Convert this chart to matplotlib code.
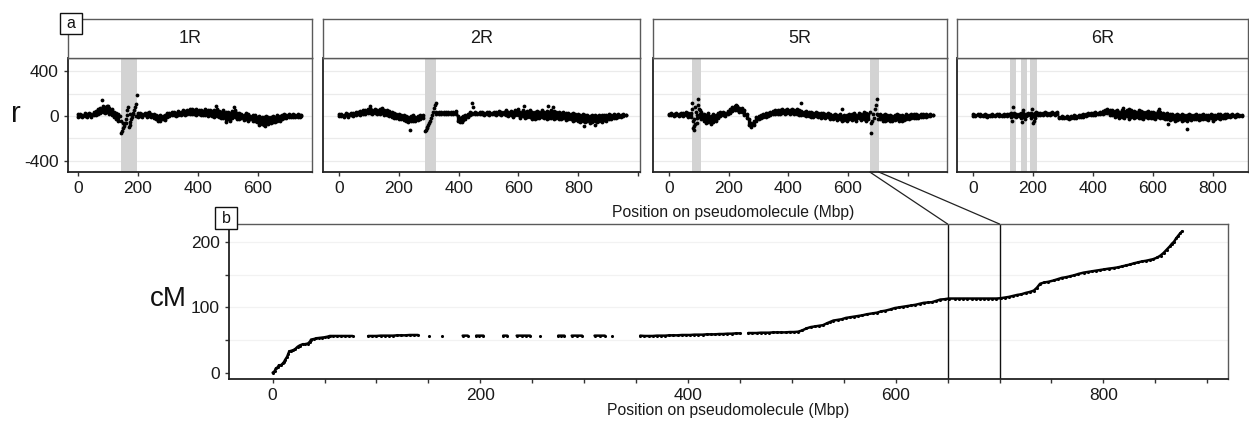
import matplotlib

matplotlib.use("Agg")
import matplotlib.pyplot as plt
import numpy as np
from matplotlib.patches import ConnectionPatch, Rectangle

W, H = 1249, 423

# ---- panel a: r along each pseudomolecule (upper / lower edge of the band + odd points)
R1_POS = [0, 7, 15, 22, 30, 38, 45, 53, 60, 68, 75, 83, 90, 98, 105, 113, 120, 128, 135,
          200, 208, 215, 223, 230, 238, 245, 253, 260, 268, 275, 283, 290, 298, 305, 313, 320,
          328, 335, 343, 350, 358, 365, 373, 380, 388, 395, 403, 410, 418, 425, 433, 440, 448,
          455, 463, 470, 478, 485, 493, 500, 508, 515, 523, 530, 538, 545, 553, 560, 568, 575,
          583, 590, 598, 605, 613, 620, 628, 635, 643, 650, 658, 665, 673, 680, 688, 695, 703,
          710, 718, 725, 733, 740, 745]
R1_HI = [15, 20, 10, 25, 15, 30, 20, 35, 45, 60, 70, 90, 80, 90, 70, 60, 40, 30, 20,
         25, 30, 20, 30, 25, 35, 20, 15, 10, 0, 5, 0, 10, 25, 30, 35, 40,
         30, 45, 40, 50, 45, 55, 60, 65, 55, 60, 50, 55, 45, 60, 50, 55, 45,
         50, 60, 45, 40, 50, 35, 40, 30, 45, 55, 30, 25, 20, 10, 25, 15, 0,
         10, 5, -5, 0, -10, -5, 0, -10, -5, 0, -10, 5, 0, 10, 15, 10, 15,
         10, 15, 10, 15, 10, 5]
R1_LO = [-5, 0, -10, 0, -5, 5, -10, 5, 10, 20, 30, 40, 30, 35, 20, 10, -10, -30, -45,
         -5, 0, -10, 5, -5, 0, -10, -15, -25, -40, -45, -30, -35, -10, 0, 5, 10,
         0, 10, 5, 15, 10, 15, 20, 20, 15, 10, 15, 5, 10, 5, 0, 10, 0,
         -5, 0, -10, -20, -15, -50, -30, -45, -20, -10, -25, -30, -20, -35, -25, -40, -30,
         -40, -45, -55, -60, -70, -80, -60, -75, -60, -50, -55, -40, -45, -30, -20, -15, -10,
         -10, -5, -10, -5, -5, 0]
R1_X = [81, 100, 143, 145, 147, 150, 153, 156, 159, 162, 165, 168, 170, 172, 175, 178, 181,
        184, 187, 190, 193, 196, 140, 150, 160, 175, 185, 192, 460, 520, 605, 625]
R1_R = [140, 90, -40, -150, -130, -110, -85, -60, -30, 10, 50, 80, -100, -80, -55, -30, -5,
        20, 50, 80, 110, 185, 0, -60, -60, 20, 30, 0, 90, 80, -80, -90]

R2_POS = [0, 8, 16, 24, 32, 40, 48, 56, 64, 72, 80, 88, 96, 104, 112, 120, 128, 136, 144, 152,
          160, 168, 176, 184, 192, 200, 208, 216, 224, 232, 240, 248, 256, 264, 272, 280,
          326, 334, 342, 350, 358, 366, 374, 382, 390, 398, 404, 410, 416, 422, 430, 438, 446,
          454, 462, 470, 478, 486, 494, 502, 510, 518, 526, 534, 542, 550, 558, 566, 574, 582,
          590, 598, 606, 614, 622, 630, 638, 646, 654, 662, 670, 678, 686, 694, 702, 710, 718,
          726, 734, 742, 750, 758, 766, 774, 782, 790, 798, 806, 814, 822, 830, 838, 846, 854,
          862, 870, 878, 886, 894, 902, 910, 918, 926, 934, 942, 950, 958]
R2_HI = [15, 20, 10, 25, 15, 30, 25, 35, 40, 45, 55, 50, 60, 70, 55, 65, 50, 60, 75, 50,
         55, 45, 35, 30, 20, 15, 10, 5, 0, -5, 0, 5, -5, 0, 5, 10,
         40, 35, 40, 35, 40, 35, 40, 35, 45, 0, -20, -10, 0, 10, 20, 40, 30,
         35, 30, 40, 35, 30, 40, 35, 30, 40, 35, 45, 35, 40, 50, 35, 45, 40,
         55, 60, 35, 50, 40, 45, 55, 40, 35, 45, 40, 50, 35, 45, 40, 55, 45,
         40, 35, 30, 35, 25, 30, 20, 25, 15, 20, 10, 15, 5, 10, 0, 5, 10,
         0, 5, 10, 5, 10, 15, 10, 15, 10, 15, 10, 15, 10]
R2_LO = [0, 0, -5, 5, -5, 5, 0, 10, 15, 10, 20, 15, 25, 30, 20, 25, 15, 20, 25, 10,
         5, 0, -5, -15, -20, -25, -30, -35, -40, -50, -45, -40, -45, -35, -30, -20,
         15, 20, 20, 15, 20, 20, 15, 20, 15, -40, -55, -50, -35, -25, -10, 10, 15,
         20, 15, 20, 15, 10, 15, 10, 15, 20, 10, 15, 10, 15, 10, 0, 5, -10,
         10, 5, -15, 0, -20, -10, -5, -25, -30, -20, -15, -10, -20, -25, -15, -20, -30,
         -15, -25, -30, -20, -35, -25, -30, -40, -35, -45, -50, -40, -55, -45, -60, -50, -45,
         -55, -40, -50, -35, -40, -30, -25, -20, -15, -10, -5, 0, 5]
R2_X = [287, 290, 293, 296, 299, 302, 305, 308, 311, 314, 317, 320, 323, 236, 445, 447, 103,
        620, 700, 716, 820, 855]
R2_R = [-130, -120, -105, -95, -80, -60, -40, -20, 10, 40, 70, 100, 120, -120, 118, 80, 90,
        90, 90, 80, -90, -80]

R5_POS = [0, 8, 16, 24, 32, 40, 48, 56, 64, 72,
          108, 116, 124, 132, 140, 148, 156, 164, 172, 180, 188, 196, 204, 212, 220, 228, 236,
          244, 252, 260, 268, 276, 284, 292, 300, 308, 316, 324, 332, 340, 348, 356, 364, 372,
          380, 388, 396, 404, 412, 420, 428, 436, 444, 452, 460, 468, 476, 484, 492, 500, 508,
          516, 524, 532, 540, 548, 556, 564, 572, 580, 588, 596, 604, 612, 620, 628, 636, 644,
          652, 660, 668,
          708, 716, 724, 732, 740, 748, 756, 764, 772, 780, 788, 796, 804, 812, 820, 828, 836,
          844, 852, 860, 868, 876, 884]
R5_HI = [20, 25, 15, 30, 20, 30, 25, 35, 30, 25,
         40, 20, 10, 30, 0, 20, 10, 25, 35, 40, 30, 45, 60, 80, 90, 85, 75,
         70, 50, 20, -30, -60, -40, -10, 0, 10, 20, 25, 30, 40, 45, 50, 55, 50,
         60, 55, 60, 50, 65, 55, 60, 50, 45, 40, 45, 35, 40, 30, 35, 30, 25,
         30, 20, 25, 15, 10, 20, 5, 15, 0, 10, 5, 20, 15, 25, 10, 30, 20,
         35, 25, 20,
         20, 10, 15, 5, 10, 0, 10, 15, 5, 10, 0, 15, 10, 20, 15, 20, 10,
         15, 20, 15, 10, 15, 10]
R5_LO = [5, 5, 0, 10, 0, 5, 0, 5, -5, -10,
         -30, -40, -60, -50, -70, -50, -40, -20, 0, 10, 0, 15, 25, 45, 55, 50, 40,
         35, 10, -20, -80, -100, -80, -40, -30, -20, -10, -5, 0, 10, 15, 15, 20, 20,
         25, 20, 25, 15, 25, 20, 20, 10, 5, 5, 0, 0, -5, -5, 0, -10, -15,
         -5, -20, -10, -25, -30, -20, -35, -30, -40, -35, -45, -30, -35, -25, -40, -20, -35,
         -25, -40, -30,
         -30, -40, -45, -35, -40, -45, -35, -30, -40, -45, -35, -30, -25, -20, -15, -20, -15,
         -10, -5, -5, 0, 0, 5]
R5_X = [76, 78, 80, 82, 84, 86, 88, 90, 92, 94, 96, 98, 100, 102, 104, 79, 85, 95, 103,
        674, 676, 678, 680, 683, 686, 690, 693, 696, 698, 700, 702, 444, 225, 580]
R5_R = [118, 60, -40, -90, -124, -70, 80, 40, -20, -60, 150, 100, 60, 20, -10, -110, -30, 10, 50,
        40, -60, -154, -40, 20, -20, 60, 98, 148, 20, -30, 10, 118, 100, 60]

R6_POS = [0, 8, 16, 24, 32, 40, 48, 56, 64, 72, 80, 88, 96, 104, 112, 120, 128, 136, 144, 152,
          160, 168, 176, 184, 192, 200, 208, 216, 224, 232, 240, 248, 256, 264, 272, 280, 288,
          296, 304, 312, 320, 328, 336, 344, 352, 360, 368, 376, 384, 392, 400, 408, 416, 424,
          432, 440, 448, 456, 464, 472, 480, 488, 496, 504, 512, 520, 528, 536, 544, 552, 560,
          568, 576, 584, 592, 600, 608, 616, 624, 632, 640, 648, 656, 664, 672, 680, 688, 696,
          704, 712, 720, 728, 736, 744, 752, 760, 768, 776, 784, 792, 800, 808, 816, 824, 832,
          840, 848, 856, 864, 872, 880, 888, 896]
R6_HI = [15, 12, 18, 15, 10, 14, 8, 10, 15, 12, 18, 15, 12, 16, 14, 18, 30, 25, 20, 15,
         30, 25, 20, 25, 30, 20, 25, 30, 25, 30, 35, 25, 30, 35, 30, 35, -5,
         0, -5, 0, -5, 0, 5, 0, 5, 10, 15, 20, 25, 30, 25, 35, 30, 40,
         45, 55, 60, 50, 55, 45, 50, 40, 55, 45, 50, 40, 55, 45, 40, 50, 45,
         35, 40, 45, 35, 40, 30, 45, 35, 30, 20, 25, 15, 20, 10, 15, 10, 15,
         5, 10, 15, 5, 10, 15, 5, 10, 15, 5, 10, 15, 5, 10, 20, 15, 10,
         20, 15, 10, 15, 10, 15, 12, 10]
R6_LO = [0, 2, 5, 0, -2, 2, -5, -3, 2, 0, 5, 2, 0, 4, 2, 5, -10, 0, -10, 0,
         -20, -5, 0, 5, -15, 0, -20, 10, 5, 10, 15, 5, 10, 15, 10, 15, -20,
         -15, -20, -15, -25, -18, -15, -20, -12, -10, -5, 0, 5, 10, 5, 10, 15, 15,
         20, 30, 25, 10, 5, -10, 0, -15, -5, -20, 0, -25, -10, -20, -10, -15, -20,
         -25, -10, -15, -20, -15, -25, -10, -20, -15, -30, -25, -35, -30, -40, -35, -30, -40,
         -35, -45, -30, -35, -30, -25, -35, -30, -25, -30, -35, -20, -40, -25, -20, -30, -20,
         -15, -10, -5, 0, -5, 0, 2, 0]
R6_X = [134, 131, 163, 167, 172, 196, 200, 205, 210, 500, 520, 713, 620, 650]
R6_R = [80, -40, -50, 50, -30, 60, -65, -45, 40, 70, 65, -118, 60, -70]

CHROMS = ["1R", "2R", "5R", "6R"]
SHADES = {
    "1R": [(143, 197)],
    "2R": [(287, 323)],
    "5R": [(76, 106), (673, 703)],
    "6R": [(123, 143), (160, 180), (190, 213)],
}
X_TICKS = [0, 200, 400, 600, 800, 1000]

# ---- panel b: genetic map of 5R (cM vs physical position)
CM_POS = [0, 2, 3, 5, 6, 8, 10, 11, 12, 14, 15, 16, 18, 20, 22, 24, 26, 29, 31, 34, 36, 37, 40,
          42, 45, 48, 50, 53, 55, 58, 62, 66, 70, 74, 77,
          92, 96, 100, 104, 108, 112, 116, 120, 124, 128, 132, 136, 140,
          151, 163, 183, 188, 196, 199, 203, 222, 226, 235, 240, 244, 248, 257, 275, 278, 281,
          288, 293, 298, 310, 315, 320, 327, 354,
          358, 362, 366, 370, 374, 378, 382, 386, 390, 394, 398, 402, 406, 410, 414, 418, 422,
          426, 430, 434, 438, 442, 446, 450, 458, 462, 466, 470, 474, 478, 482, 486, 490, 494,
          498, 502, 506, 510, 514, 518, 522, 526, 530, 534, 537, 540, 544, 548, 552, 556, 560,
          564, 568, 572, 578, 582, 586, 590, 595, 599, 603, 607, 611, 615, 619, 623, 627, 631,
          635, 639, 643, 647, 651,
          657, 661, 665, 669, 673, 677, 681, 685, 689, 693, 697, 701,
          705, 709, 713, 717, 721, 725, 729, 733, 736, 739, 743, 747, 752, 756, 760, 764, 768,
          772, 776, 781, 785, 789, 793, 797, 801, 805, 810, 814, 818, 822, 826, 829, 833, 837,
          841, 845, 848, 852, 855, 858, 861, 864, 866, 868, 870, 872, 874, 876]
CM_VAL = [0.5, 3, 7, 9, 12, 12, 15, 17, 20, 25, 29, 33, 34, 35, 37, 40, 42, 44, 44, 45, 48, 51,
          52, 53, 53.5, 54, 54.5, 55.5, 56.5, 56.5, 56.5, 56.5, 56.5, 56.5, 56.5,
          56.5, 56.5, 56.5, 57, 57, 57, 57, 57.5, 57.5, 57.5, 58, 58, 58,
          57, 57, 57, 57, 57, 57, 57, 57, 57, 57, 57, 57, 57, 57, 57, 57, 57,
          57, 57, 57, 57, 57, 57, 57, 57,
          56.5, 56.5, 56.5, 57, 57, 57, 57.5, 57.5, 57.5, 58, 58, 58, 58.5, 58.5, 58.5, 59, 59,
          59, 59.5, 59.5, 60, 60, 60.5, 60.5, 61, 61, 61, 61.5, 61.5, 61.5, 62, 62, 62, 62,
          62.5, 62.5, 63, 65, 68, 70, 71, 72, 73, 76, 78, 80, 81, 82, 84, 85, 86,
          87, 88, 89.5, 91, 92, 94, 95, 97, 99, 100, 101, 102, 103, 104, 105.5, 107, 107.5,
          108, 110, 112, 112.5, 113.5,
          113.5, 113.5, 113.5, 113.5, 113.5, 113.5, 113.5, 113.5, 113.5, 113.5, 113.5, 114,
          115, 116, 117.5, 119, 120, 122, 123.5, 125.6, 130, 136, 138, 139, 141, 143, 145, 146,
          147.5, 149, 151, 153, 154, 155, 156, 157, 158, 159, 160, 161, 162.5, 164, 165.5, 167,
          168.5, 170, 171, 172.5, 173.5, 176, 179, 183, 188, 193, 197, 200, 205, 209, 213, 216]
ZOOM_RANGE = (650, 700)

DATA = {
    "1R": (R1_POS, R1_HI, R1_LO, R1_X, R1_R),
    "2R": (R2_POS, R2_HI, R2_LO, R2_X, R2_R),
    "5R": (R5_POS, R5_HI, R5_LO, R5_X, R5_R),
    "6R": (R6_POS, R6_HI, R6_LO, R6_X, R6_R),
}

# panel frames in pixels (left, right) and x limits
TOP_X = {"1R": (68, 312), "2R": (323, 640), "5R": (653, 947), "6R": (957, 1248)}
TOP_XLIM = {"1R": (-33, 780), "2R": (-53, 1006), "5R": (-54, 932), "6R": (-53, 917)}
TOP_Y = (58, 172)
STRIP_Y = (19, 58)
BOT = (229, 224, 1228, 379)

GRID = "#EBEBEB"
SHADE = "#D3D3D3"
PT = 7.5


def frac(x0, y0, x1, y1):
    return [x0 / W, 1 - y1 / H, (x1 - x0) / W, (y1 - y0) / H]


def style_frame(ax):
    for side in ("top", "right"):
        ax.spines[side].set_color("#5a5a5a")
        ax.spines[side].set_linewidth(1.0)
    for side in ("left", "bottom"):
        ax.spines[side].set_color("#222222")
        ax.spines[side].set_linewidth(1.3)
    ax.tick_params(length=3, width=1, color="#333333", labelsize=12.5, labelcolor="#1a1a1a")


def letter_box(fig, x0, y0, x1, y1, txt):
    fig.add_artist(Rectangle((x0 / W, 1 - y1 / H), (x1 - x0) / W, (y1 - y0) / H,
                             transform=fig.transFigure, facecolor="white", edgecolor="#111111",
                             linewidth=1.0, zorder=10))
    fig.text((x0 + x1) / 2 / W, 1 - (y0 + y1) / 2 / H, txt, ha="center", va="center",
             fontsize=11.5, color="#111111", zorder=11)


def main():
    plt.rcParams.update({"font.family": ["Liberation Sans", "DejaVu Sans"]})
    fig = plt.figure(figsize=(W / 100, H / 100), dpi=100, facecolor="white")

    axes = {}
    for i, ch in enumerate(CHROMS):
        x0, x1 = TOP_X[ch]
        ax = fig.add_axes(frac(x0, TOP_Y[0], x1, TOP_Y[1]))
        axes[ch] = ax
        pos, hi, lo, ex, er = DATA[ch]
        for y in (-400, -200, 0, 200, 400):
            ax.axhline(y, color=GRID, lw=0.9, zorder=0)
        for a, b in SHADES[ch]:
            ax.axvspan(a, b, color=SHADE, lw=0, zorder=1)
        # dense cloud of markers between the upper and lower edge
        ax.vlines(pos, lo, hi, color="black", lw=2.4, zorder=2)
        ax.scatter(pos, hi, s=PT, color="black", lw=0, zorder=3)
        ax.scatter(pos, lo, s=PT, color="black", lw=0, zorder=3)
        ax.scatter(ex, er, s=PT, color="black", lw=0, zorder=3)
        ax.set_xlim(*TOP_XLIM[ch])
        ax.set_ylim(-498, 516)
        ticks = [t for t in X_TICKS if TOP_XLIM[ch][0] <= t <= TOP_XLIM[ch][1]]
        labels = [str(t) if t < 1000 else "" for t in ticks]
        if ch == "5R":
            labels = [lab if t < 800 else "" for t, lab in zip(ticks, labels)]
        ax.set_xticks(ticks, labels)
        style_frame(ax)
        if i == 0:
            ax.set_yticks([-400, 0, 400], ["-400", "0", "400"])
        else:
            ax.set_yticks([-400, 0, 400], ["", "", ""])
            ax.tick_params(axis="y", length=0)

        strip = fig.add_axes(frac(x0, STRIP_Y[0], x1, STRIP_Y[1]))
        strip.set_xticks([])
        strip.set_yticks([])
        for sp in strip.spines.values():
            sp.set_color("#5a5a5a")
            sp.set_linewidth(1.0)
        strip.text(0.5, 0.5, ch, ha="center", va="center", fontsize=13, color="#1a1a1a",
                   transform=strip.transAxes)

    fig.text(16 / W, 1 - 114 / H, "r", ha="center", va="center", fontsize=21, color="#111111")
    fig.text(733 / W, 1 - 213 / H, "Position on pseudomolecule (Mbp)", ha="center",
             va="center", fontsize=11.3, color="#1a1a1a")

    # panel b
    axb = fig.add_axes(frac(*BOT))
    for y in (50, 100, 150, 200):
        axb.axhline(y, color="#F2F2F2", lw=0.9, zorder=0)
    cx = np.array(CM_POS, dtype=float)
    cy = np.array(CM_VAL, dtype=float)
    # join neighbouring markers so dense stretches read as a solid trace
    gap = np.r_[False, np.diff(cx) > 6]
    lx = np.insert(cx, np.where(gap)[0], np.nan)
    ly = np.insert(cy, np.where(gap)[0], np.nan)
    axb.plot(lx, ly, color="black", lw=1.8, zorder=3, solid_capstyle="round")
    axb.scatter(cx, cy, s=5, color="black", lw=0, zorder=3)
    for x in ZOOM_RANGE:
        axb.axvline(x, color="#111111", lw=1.0, zorder=2)
    axb.set_xlim(-42, 920)
    axb.set_ylim(-9, 227)
    xt = list(range(0, 901, 50))
    axb.set_xticks(xt, [str(t) if t % 200 == 0 else "" for t in xt])
    yt = [0, 50, 100, 150, 200]
    axb.set_yticks(yt, [str(t) if t % 100 == 0 else "" for t in yt])
    style_frame(axb)
    axb.set_xlabel("Position on pseudomolecule (Mbp)", fontsize=11.3, color="#1a1a1a",
                   labelpad=0)
    fig.text(168 / W, 1 - 299 / H, "cM", ha="center", va="center", fontsize=20,
             color="#111111")

    # zoom connectors from 5R shaded region to panel b window
    ax5 = axes["5R"]
    for xa, xb in ((SHADES["5R"][1][0], ZOOM_RANGE[0]), (SHADES["5R"][1][1], ZOOM_RANGE[1])):
        con = ConnectionPatch(xyA=(xa, 0), coordsA=ax5.get_xaxis_transform(),
                              xyB=(xb, 1), coordsB=axb.get_xaxis_transform(),
                              color="#222222", lw=0.9)
        fig.add_artist(con)

    letter_box(fig, 60, 13, 82, 34, "a")
    letter_box(fig, 215, 207, 237, 229, "b")

    fig.savefig("out.png", dpi=100, facecolor="white")
    plt.close(fig)


if __name__ == "__main__":
    main()
